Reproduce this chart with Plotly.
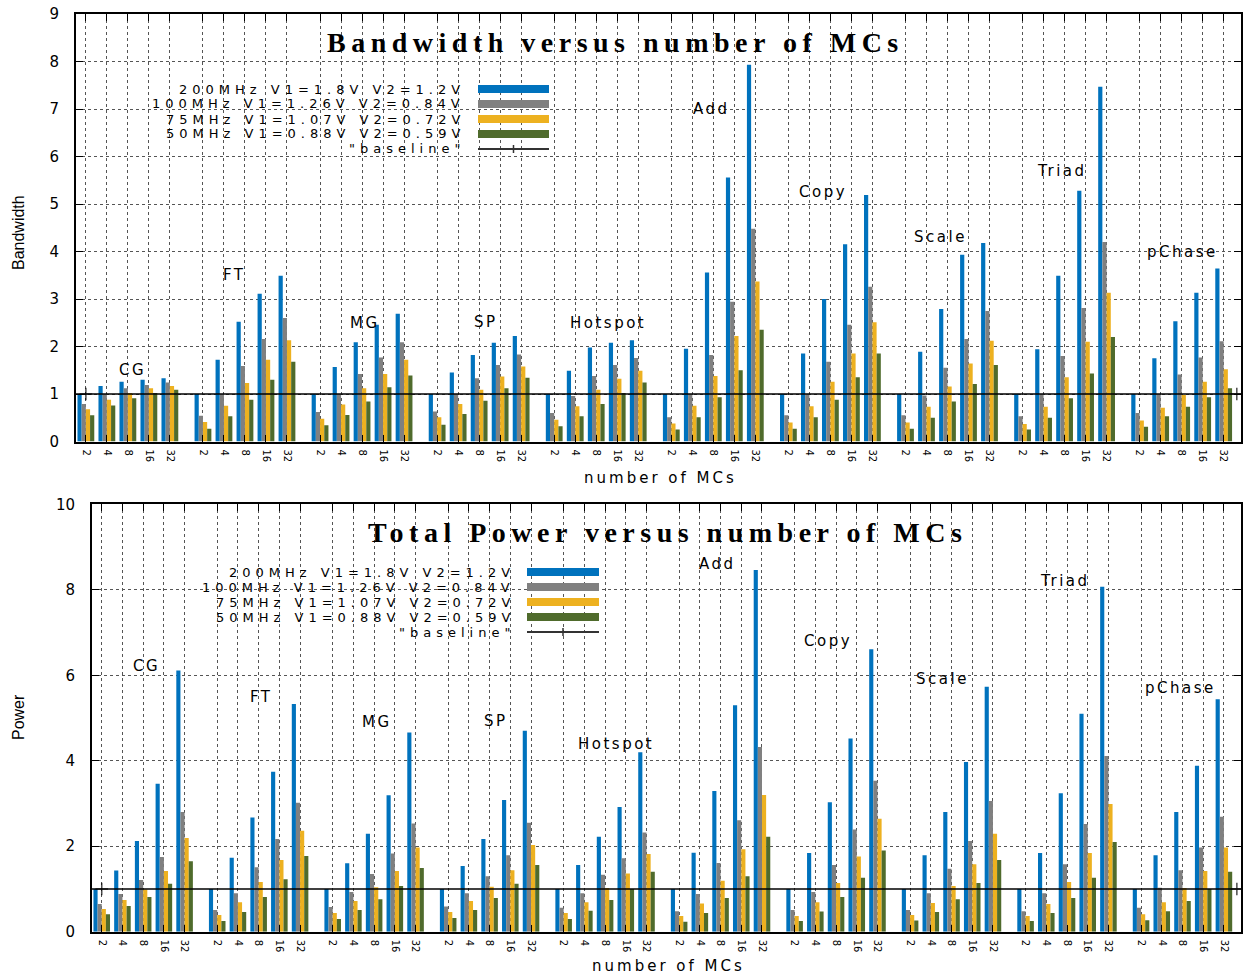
import plotly.graph_objects as go

# ---------------- data ----------------
benchmarks = ["CG", "FT", "MG", "SP", "Hotspot", "Add", "Copy", "Scale", "Triad", "pChase"]
mc_counts = ["2", "4", "8", "16", "32"]
series_names = ["200MHz V1=1.8V V2=1.2V", "100MHz V1=1.26V V2=0.84V",
                "75MHz V1=1.07V V2=0.72V", "50MHz V1=0.88V V2=0.59V"]
baseline_name = '"baseline"'
baseline_value = 1.0

# Bandwidth (per benchmark: MCs 2,4,8,16,32)
bw_200 = [1.00, 1.17, 1.26, 1.30, 1.33,   1.00, 1.72, 2.52, 3.11, 3.49,
          1.00, 1.57, 2.09, 2.46, 2.69,   1.00, 1.45, 1.82, 2.08, 2.22,
          1.00, 1.49, 1.98, 2.08, 2.13,   1.00, 1.95, 3.56, 5.56, 7.93,
          1.00, 1.85, 3.00, 4.15, 5.19,   1.00, 1.89, 2.79, 3.93, 4.18,
          1.00, 1.94, 3.49, 5.28, 7.47,   1.00, 1.75, 2.53, 3.13, 3.64]
bw_100 = [0.79, 1.00, 1.12, 1.19, 1.24,   0.54, 1.00, 1.59, 2.16, 2.60,
          0.62, 1.00, 1.42, 1.77, 2.09,   0.63, 1.00, 1.33, 1.61, 1.83,
          0.60, 0.96, 1.38, 1.61, 1.76,   0.51, 1.00, 1.82, 2.94, 4.48,
          0.55, 1.00, 1.68, 2.46, 3.26,   0.55, 0.97, 1.55, 2.16, 2.75,
          0.53, 1.00, 1.80, 2.81, 4.20,   0.60, 1.00, 1.41, 1.77, 2.11]
bw_75 = [0.68, 0.88, 1.02, 1.12, 1.17,   0.41, 0.75, 1.23, 1.72, 2.13,
         0.48, 0.78, 1.12, 1.42, 1.72,   0.51, 0.79, 1.09, 1.37, 1.58,
         0.46, 0.74, 1.09, 1.32, 1.49,   0.38, 0.75, 1.38, 2.22, 3.37,
         0.40, 0.74, 1.26, 1.85, 2.51,   0.40, 0.73, 1.16, 1.64, 2.12,
         0.37, 0.73, 1.35, 2.10, 3.13,   0.44, 0.71, 0.98, 1.26, 1.52]
bw_50 = [0.55, 0.76, 0.91, 1.02, 1.09,   0.27, 0.53, 0.88, 1.30, 1.68,
         0.34, 0.56, 0.84, 1.14, 1.39,   0.35, 0.58, 0.86, 1.12, 1.34,
         0.32, 0.53, 0.79, 1.02, 1.24,   0.25, 0.51, 0.93, 1.50, 2.35,
         0.27, 0.51, 0.88, 1.35, 1.85,   0.27, 0.50, 0.84, 1.21, 1.61,
         0.25, 0.50, 0.91, 1.43, 2.20,   0.31, 0.53, 0.73, 0.93, 1.12]

# Total power (per benchmark: MCs 2,4,8,16,32)
pw_200 = [1.00, 1.43, 2.12, 3.46, 6.11,   1.00, 1.73, 2.67, 3.74, 5.33,
          1.00, 1.60, 2.29, 3.19, 4.66,   1.00, 1.54, 2.17, 3.08, 4.70,
          1.00, 1.56, 2.22, 2.92, 4.20,   1.00, 1.85, 3.29, 5.30, 8.46,
          1.00, 1.84, 3.03, 4.52, 6.61,   1.00, 1.79, 2.80, 3.97, 5.73,
          1.00, 1.84, 3.24, 5.10, 8.07,   1.00, 1.79, 2.80, 3.88, 5.44]
pw_100 = [0.65, 0.88, 1.21, 1.75, 2.80,   0.51, 0.90, 1.51, 2.17, 3.02,
          0.58, 0.93, 1.35, 1.83, 2.53,   0.59, 0.90, 1.30, 1.79, 2.55,
          0.56, 0.90, 1.33, 1.72, 2.32,   0.48, 0.88, 1.61, 2.61, 4.32,
          0.51, 0.93, 1.56, 2.39, 3.53,   0.51, 0.90, 1.47, 2.12, 3.06,
          0.48, 0.90, 1.58, 2.52, 4.11,   0.56, 1.03, 1.44, 1.97, 2.69]
pw_75 = [0.53, 0.74, 0.99, 1.42, 2.19,   0.39, 0.69, 1.16, 1.68, 2.36,
         0.44, 0.72, 1.04, 1.42, 1.97,   0.46, 0.72, 1.05, 1.44, 2.03,
         0.44, 0.69, 1.02, 1.36, 1.82,   0.37, 0.66, 1.19, 1.93, 3.20,
         0.37, 0.69, 1.14, 1.76, 2.64,   0.39, 0.67, 1.07, 1.58, 2.29,
         0.37, 0.65, 1.16, 1.84, 2.99,   0.41, 0.69, 1.02, 1.42, 1.97]
pw_50 = [0.41, 0.60, 0.81, 1.12, 1.65,   0.25, 0.46, 0.81, 1.23, 1.77,
         0.30, 0.51, 0.76, 1.07, 1.49,   0.32, 0.51, 0.79, 1.12, 1.56,
         0.30, 0.49, 0.74, 1.00, 1.40,   0.23, 0.44, 0.79, 1.30, 2.22,
         0.25, 0.47, 0.81, 1.26, 1.90,   0.26, 0.46, 0.76, 1.14, 1.68,
         0.25, 0.44, 0.79, 1.26, 2.10,   0.27, 0.48, 0.72, 1.00, 1.40]

# ---------------- layout helpers ----------------
W, H = 1245, 977
colors = ["#0072BD", "#808080", "#EDB120", "#4F6B2C"]
GROUP_PERIOD = 5.575
XRANGE = [-0.47, 55.0]

xpos = [g * GROUP_PERIOD + i for g in range(len(benchmarks)) for i in range(len(mc_counts))]
xtext = [mc for _ in benchmarks for mc in mc_counts]


def px(x):
    return x / W


def py(y):
    return 1 - y / H


def spaced(t, s):
    return '<span style="letter-spacing:%spx">%s</span>' % (s, t)


SANS = "DejaVu Sans, Verdana, sans-serif"
SERIF = "Liberation Serif, Times New Roman, serif"
NARROW = "Liberation Sans Narrow, Arial Narrow, Liberation Sans, sans-serif"

fig = go.Figure()

panels = [
    dict(xa="x", ya="y", series=[bw_200, bw_100, bw_75, bw_50]),
    dict(xa="x2", ya="y2", series=[pw_200, pw_100, pw_75, pw_50]),
]

for p in panels:
    for name, vals, col in zip(series_names, p["series"], colors):
        fig.add_trace(go.Bar(
            x=xpos, y=vals, name=name, marker=dict(color=col, line=dict(width=0)),
            xaxis=p["xa"], yaxis=p["ya"], showlegend=False,
        ))
    fig.add_trace(go.Scatter(
        x=[XRANGE[0], xpos[0], 54.8, XRANGE[1]], y=[baseline_value] * 4,
        mode="lines+markers", name=baseline_name,
        line=dict(color="black", width=1.5),
        marker=dict(symbol="cross-thin", size=[0, 9, 9, 0],
                    line=dict(color="black", width=1.5)),
        xaxis=p["xa"], yaxis=p["ya"], showlegend=False,
    ))

axis_common = dict(
    showline=True, linecolor="black", linewidth=2, mirror="allticks",
    ticks="inside", ticklen=7, tickcolor="black", tickwidth=1.2,
    showgrid=True, gridcolor="#555555", griddash="dot", gridwidth=1,
    zeroline=False, automargin=False,
)

xaxis_common = dict(axis_common, range=XRANGE, tickmode="array", tickvals=xpos,
                    ticktext=xtext, tickangle=90,
                    tickfont=dict(family=SANS, size=10, color="black"),
                    ticklabelstandoff=4)

fig.update_layout(
    width=W, height=H, paper_bgcolor="white", plot_bgcolor="white",
    margin=dict(l=0, r=0, t=0, b=0, pad=0, autoexpand=False),
    barmode="group", bargap=0.2, bargroupgap=0.0,
    showlegend=False,
    xaxis=dict(xaxis_common, domain=[px(76), px(1241)], anchor="y"),
    yaxis=dict(axis_common, domain=[py(441.5), py(14)], anchor="x", range=[0, 9], dtick=1,
               tickfont=dict(family=SANS, size=15, color="black"), ticklabelstandoff=12),
    xaxis2=dict(xaxis_common, domain=[px(92), px(1241)], anchor="y2"),
    yaxis2=dict(axis_common, domain=[py(931.7), py(504.3)], anchor="x2", range=[0, 10], dtick=2,
                tickfont=dict(family=SANS, size=15, color="black"), ticklabelstandoff=12),
)

annotations = []
shapes = []

# titles, axis titles
titles = [("Bandwidth versus number of MCs", 615, 42), ("Total Power versus number of MCs", 667, 532)]
for t, cx, cy in titles:
    annotations.append(dict(text="<b>%s</b>" % spaced(t, 5.5), x=px(cx), y=py(cy), xref="paper", yref="paper",
                            xanchor="center", yanchor="middle", showarrow=False,
                            font=dict(family=SERIF, size=28, color="black")))
for t, cx, cy in [("number of MCs", 660, 478), ("number of MCs", 668, 966)]:
    annotations.append(dict(text=spaced(t, 3), x=px(cx), y=py(cy), xref="paper", yref="paper",
                            xanchor="center", yanchor="middle", showarrow=False,
                            font=dict(family=SANS, size=15, color="black")))
for t, cx, cy in [("Bandwidth", 18, 233), ("Power", 18, 717)]:
    annotations.append(dict(text=t, x=px(cx), y=py(cy), xref="paper", yref="paper",
                            xanchor="center", yanchor="middle", showarrow=False, textangle=-90,
                            font=dict(family=NARROW, size=16, color="black")))

# group labels (positions in data units)
label_x_top = [2.24, 7.1, 13.29, 19.05, 24.86, 29.8, 35.1, 40.67, 46.5, 52.2]
label_y_top = [1.51, 3.5, 2.5, 2.52, 2.5, 7.0, 5.26, 4.31, 5.7, 3.99]
label_x_bot = [2.18, 7.73, 13.27, 19.05, 24.83, 29.75, 35.05, 40.6, 46.5, 52.1]
label_y_bot = [6.22, 5.49, 4.90, 4.92, 4.39, 8.60, 6.80, 5.91, 8.20, 5.70]
for (lx, ly, xr, yr) in [(label_x_top, label_y_top, "x", "y"), (label_x_bot, label_y_bot, "x2", "y2")]:
    for b, xx, yy in zip(benchmarks, lx, ly):
        annotations.append(dict(text=spaced(b, 2.5), x=xx, y=yy, xref=xr, yref=yr, xanchor="center",
                                yanchor="middle", showarrow=False,
                                font=dict(family=SANS, size=15, color="black")))

# custom gnuplot-style legends (text right-aligned, sample on the right)
legends = [
    dict(box=(100, 80, 557, 158), text_right=462, s0=478, s1=549, rows=[89, 104, 119, 134, 149]),
    dict(box=(150, 563, 608, 641), text_right=512, s0=527, s1=599, rows=[572, 587, 602, 617, 632]),
]
for lg in legends:
    x0, y0, x1, y1 = lg["box"]
    shapes.append(dict(type="rect", xref="paper", yref="paper", x0=px(x0), x1=px(x1),
                       y0=py(y1), y1=py(y0), fillcolor="white", line=dict(width=0), layer="between"))
    names = series_names + [baseline_name]
    for k, (nm, ry) in enumerate(zip(names, lg["rows"])):
        annotations.append(dict(text=spaced(nm, 5), x=px(lg["text_right"] + 5), y=py(ry),
                                xref="paper", yref="paper",
                                xanchor="right", yanchor="middle", showarrow=False,
                                font=dict(family=SANS, size=13, color="black")))
        if k < 4:
            shapes.append(dict(type="rect", xref="paper", yref="paper", x0=px(lg["s0"]), x1=px(lg["s1"]),
                               y0=py(ry + 4), y1=py(ry - 4), fillcolor=colors[k],
                               line=dict(width=0), layer="above"))
        else:
            shapes.append(dict(type="line", xref="paper", yref="paper", x0=px(lg["s0"]), x1=px(lg["s1"]),
                               y0=py(ry), y1=py(ry), line=dict(color="#333333", width=2), layer="above"))
            mid = (lg["s0"] + lg["s1"]) / 2
            shapes.append(dict(type="line", xref="paper", yref="paper", x0=px(mid), x1=px(mid),
                               y0=py(ry - 4), y1=py(ry + 4), line=dict(color="#333333", width=1.5),
                               layer="above"))

fig.update_layout(annotations=annotations, shapes=shapes)
fig.write_html(
    "out.html",
    config={"displayModeBar": False},
    post_script=(
        "var gd=document.getElementById('{plot_id}');"
        "gd.style.position='fixed';gd.style.left='0px';gd.style.top='0px';"
        "document.body.style.margin='0';"
        "document.documentElement.style.overflow='hidden';"
    ),
)
